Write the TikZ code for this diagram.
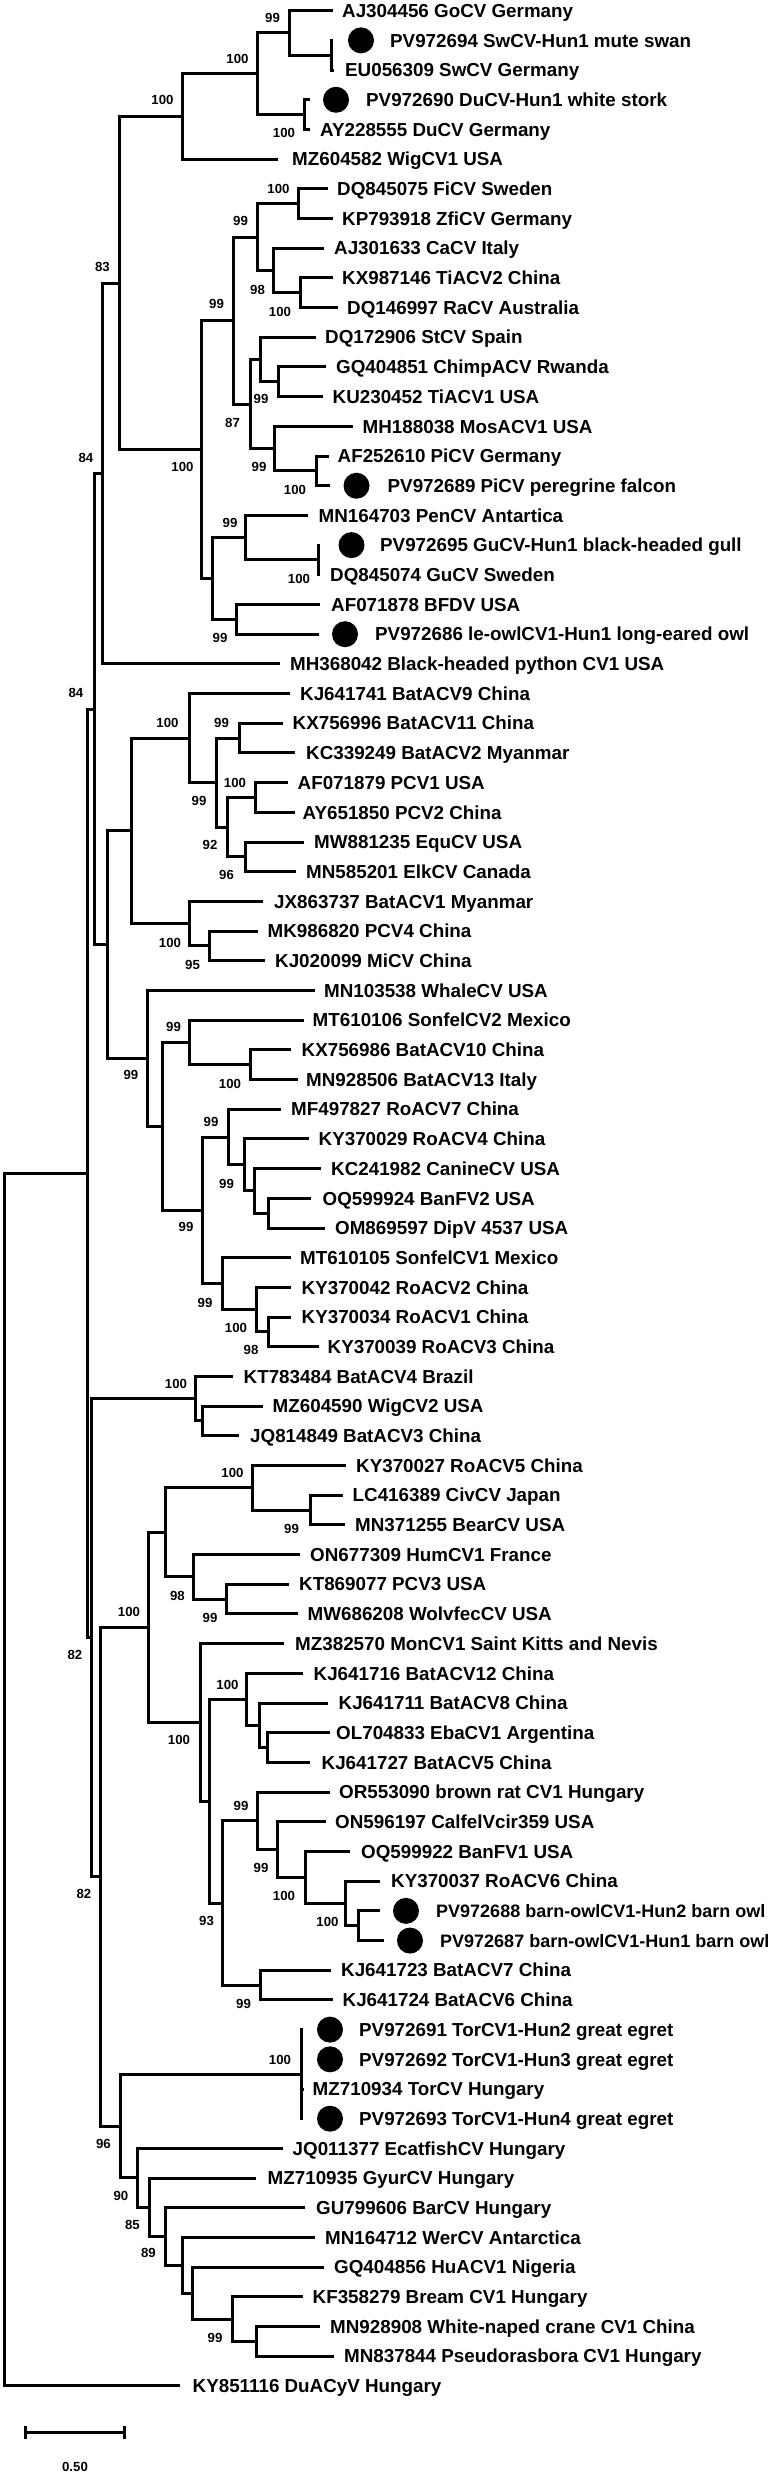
\documentclass[tikz,border=0pt]{standalone}
\usepackage{fontspec}
\setmainfont{Liberation Sans}
\newcommand\leaffont{\fontsize{18.8pt}{20pt}\selectfont\bfseries}
\newcommand\smleaffont{\fontsize{18pt}{20pt}\selectfont\bfseries}
\newcommand\bsfont{\fontsize{13.2pt}{14pt}\selectfont\bfseries}
\tikzset{
  br/.style={line width=3pt, line join=miter},
  leaflab/.style={anchor=base west, inner sep=0pt, font=\leaffont, yshift=-6.7pt},
  bslab/.style={inner sep=0pt, font=\bsfont},
  blackdot/.style={circle, fill=black, minimum size=26pt, inner sep=0pt},
}
\newcommand\tleaf[4]{\coordinate (t#1) at (#2,{ly(#1)}); \node[leaflab] (L#1) at (#3,{ly(#1)}) {#4};}
\newcommand\tdleaf[5]{\coordinate (t#1) at (#2,{ly(#1)}); \node[blackdot] (d#1) at (#3,{ly(#1)}) {}; \node[leaflab] (L#1) at (#4,{ly(#1)}) {#5};}
\begin{document}
\begin{tikzpicture}[x=1pt,y=-1pt,declare function={ly(\i)=10.7+(\i-1)*29.69;}]
\useasboundingbox (0,0) rectangle (778,2473);
\fill[white] (0,0) rectangle (778,2473);
% leaves
\tleaf{1}{332.5}{342}{AJ304456 GoCV Germany}
\tdleaf{2}{333}{361}{390}{PV972694 SwCV-Hun1 mute swan}
\tleaf{3}{333.5}{345}{EU056309 SwCV Germany}
\tdleaf{4}{310}{336}{366}{PV972690 DuCV-Hun1 white stork}
\tleaf{5}{310}{320}{AY228555 DuCV Germany}
\tleaf{6}{277.5}{292}{MZ604582 WigCV1 USA}
\tleaf{7}{327.5}{337}{DQ845075 FiCV Sweden}
\tleaf{8}{332.5}{342}{KP793918 ZfiCV Germany}
\tleaf{9}{324}{334}{AJ301633 CaCV Italy}
\tleaf{10}{332.5}{342}{KX987146 TiACV2 China}
\tleaf{11}{337.5}{347}{DQ146997 RaCV Australia}
\tleaf{12}{316}{325}{DQ172906 StCV Spain}
\tleaf{13}{326}{336}{GQ404851 ChimpACV Rwanda}
\tleaf{14}{322.5}{332.5}{KU230452 TiACV1 USA}
\tleaf{15}{352.5}{362.5}{MH188038 MosACV1 USA}
\tleaf{16}{329}{337.5}{AF252610 PiCV Germany}
\tdleaf{17}{330}{356.5}{387.5}{PV972689 PiCV peregrine falcon}
\tleaf{18}{307.5}{318.5}{MN164703 PenCV Antartica}
\tdleaf{19}{320}{351.5}{380}{PV972695 GuCV-Hun1 black-headed gull}
\tleaf{20}{320}{330}{DQ845074 GuCV Sweden}
\tleaf{21}{320}{331}{AF071878 BFDV USA}
\tdleaf{22}{318.5}{345}{375}{PV972686 le-owlCV1-Hun1 long-eared owl}
\tleaf{23}{280}{290}{MH368042 Black-headed python CV1 USA}
\tleaf{24}{290}{300}{KJ641741 BatACV9 China}
\tleaf{25}{282.5}{292.5}{KX756996 BatACV11 China}
\tleaf{26}{295}{306}{KC339249 BatACV2 Myanmar}
\tleaf{27}{287.5}{297.5}{AF071879 PCV1 USA}
\tleaf{28}{295}{302.5}{AY651850 PCV2 China}
\tleaf{29}{304}{314}{MW881235 EquCV USA}
\tleaf{30}{296}{306}{MN585201 ElkCV Canada}
\tleaf{31}{262.5}{274}{JX863737 BatACV1 Myanmar}
\tleaf{32}{257.5}{267.5}{MK986820 PCV4 China}
\tleaf{33}{265}{275}{KJ020099 MiCV China}
\tleaf{34}{315}{324}{MN103538 WhaleCV USA}
\tleaf{35}{303.5}{312.5}{MT610106 SonfelCV2 Mexico}
\tleaf{36}{291}{301.5}{KX756986 BatACV10 China}
\tleaf{37}{297.5}{306}{MN928506 BatACV13 Italy}
\tleaf{38}{281}{291}{MF497827 RoACV7 China}
\tleaf{39}{308.5}{318.5}{KY370029 RoACV4 China}
\tleaf{40}{321}{331}{KC241982 CanineCV USA}
\tleaf{41}{311}{322.5}{OQ599924 BanFV2 USA}
\tleaf{42}{325}{335}{OM869597 DipV 4537 USA}
\tleaf{43}{291}{300}{MT610105 SonfelCV1 Mexico}
\tleaf{44}{291}{301.5}{KY370042 RoACV2 China}
\tleaf{45}{291}{301.5}{KY370034 RoACV1 China}
\tleaf{46}{318.5}{327.5}{KY370039 RoACV3 China}
\tleaf{47}{232.5}{243.5}{KT783484 BatACV4 Brazil}
\tleaf{48}{262.5}{272.5}{MZ604590 WigCV2 USA}
\tleaf{49}{239}{250}{JQ814849 BatACV3 China}
\tleaf{50}{346}{356}{KY370027 RoACV5 China}
\tleaf{51}{342.5}{352.5}{LC416389 CivCV Japan}
\tleaf{52}{345}{355}{MN371255 BearCV USA}
\tleaf{53}{300}{310}{ON677309 HumCV1 France}
\tleaf{54}{289}{299}{KT869077 PCV3 USA}
\tleaf{55}{297.5}{307.5}{MW686208 WolvfecCV USA}
\tleaf{56}{284}{295}{MZ382570 MonCV1 Saint Kitts and Nevis}
\tleaf{57}{302.5}{313.5}{KJ641716 BatACV12 China}
\tleaf{58}{327.5}{338.5}{KJ641711 BatACV8 China}
\tleaf{59}{330}{336}{OL704833 EbaCV1 Argentina}
\tleaf{60}{310}{321.5}{KJ641727 BatACV5 China}
\tleaf{61}{330}{339}{OR553090 brown rat CV1 Hungary}
\tleaf{62}{326}{335}{ON596197 CalfelVcir359 USA}
\tleaf{63}{350}{361}{OQ599922 BanFV1 USA}
\tleaf{64}{380}{391}{KY370037 RoACV6 China}
\tdleaf{65}{380}{406}{436}{\smleaffont PV972688 barn-owlCV1-Hun2 barn owl}
\tdleaf{66}{383.5}{410}{440}{\smleaffont PV972687 barn-owlCV1-Hun1 barn owl}
\tleaf{67}{331}{341}{KJ641723 BatACV7 China}
\tleaf{68}{332.5}{342.5}{KJ641724 BatACV6 China}
\tdleaf{69}{303}{330}{359}{PV972691 TorCV1-Hun2 great egret}
\tdleaf{70}{303}{330}{359}{PV972692 TorCV1-Hun3 great egret}
\tleaf{71}{304}{312.5}{MZ710934 TorCV Hungary}
\tdleaf{72}{303}{330}{359}{PV972693 TorCV1-Hun4 great egret}
\tleaf{73}{282.5}{292.5}{JQ011377 EcatfishCV Hungary}
\tleaf{74}{256}{267.5}{MZ710935 GyurCV Hungary}
\tleaf{75}{305}{316}{GU799606 BarCV Hungary}
\tleaf{76}{315}{325}{MN164712 WerCV Antarctica}
\tleaf{77}{324}{334}{GQ404856 HuACV1 Nigeria}
\tleaf{78}{302.5}{312.5}{KF358279 Bream CV1 Hungary}
\tleaf{79}{320}{330}{MN928908 White-naped crane CV1 China}
\tleaf{80}{334}{344}{MN837844 Pseudorasbora CV1 Hungary}
\tleaf{81}{180}{192.5}{KY851116 DuACyV Hungary}
% internal nodes
\coordinate (n23) at (331.5,55.24);
\coordinate (nA) at (289,32.97);
\coordinate (n45) at (304,114.62);
\coordinate (nB) at (257.5,73.80);
\coordinate (nC) at (182.5,116.48);
\coordinate (n78) at (298.5,203.69);
\coordinate (n1011) at (300,292.76);
\coordinate (nG) at (273.5,270.49);
\coordinate (nF) at (257.5,237.09);
\coordinate (n1314) at (278.5,381.83);
\coordinate (nJ) at (260,359.56);
\coordinate (n1617) at (316,470.90);
\coordinate (nK) at (274,448.63);
\coordinate (nI) at (250,404.10);
\coordinate (nH) at (233.5,320.60);
\coordinate (n1920) at (318.5,559.97);
\coordinate (nN) at (245,537.70);
\coordinate (n2122) at (236,619.35);
\coordinate (nM) at (212.5,578.53);
\coordinate (nL) at (201.5,449.57);
\coordinate (nD) at (119,283.03);
\coordinate (nE) at (102.5,473.46);
\coordinate (n2526) at (239,738.11);
\coordinate (n2728) at (255,797.49);
\coordinate (n2930) at (245,856.87);
\coordinate (nU) at (227.5,827.18);
\coordinate (nT) at (216,782.65);
\coordinate (nS) at (189,738.11);
\coordinate (n3233) at (209,945.94);
\coordinate (nV) at (189,923.67);
\coordinate (nR) at (131,830.89);
\coordinate (n3637) at (250,1064.70);
\coordinate (nY) at (189,1042.43);
\coordinate (n4142) at (268.5,1213.15);
\coordinate (nAC) at (254,1190.88);
\coordinate (nAB) at (244,1164.90);
\coordinate (nAA) at (228.5,1137.07);
\coordinate (n4546) at (268.5,1331.91);
\coordinate (nAE) at (256,1309.64);
\coordinate (nAD) at (222.5,1283.66);
\coordinate (nZ) at (202.5,1210.37);
\coordinate (nX) at (162.5,1126.40);
\coordinate (nW) at (147.5,1058.44);
\coordinate (nQ) at (107.5,944.67);
\coordinate (nO) at (94,709.07);
\coordinate (n4849) at (202.5,1420.98);
\coordinate (n4749) at (195,1398.71);
\coordinate (n5152) at (310,1510.05);
\coordinate (n5052) at (252.5,1487.78);
\coordinate (n5455) at (226.5,1599.12);
\coordinate (n5355) at (193.5,1576.85);
\coordinate (nAF) at (165,1532.32);
\coordinate (n5960) at (267.5,1747.57);
\coordinate (n5860) at (259,1725.30);
\coordinate (nAM) at (246.5,1699.32);
\coordinate (n6566) at (358.5,1925.71);
\coordinate (n6466) at (345,1903.44);
\coordinate (nAQ) at (305,1877.46);
\coordinate (nAP) at (277.5,1849.63);
\coordinate (nAO) at (257.5,1820.87);
\coordinate (n6768) at (260,1985.09);
\coordinate (nAL) at (222.5,1902.98);
\coordinate (nAN) at (209,1801.15);
\coordinate (nAK) at (200,1722.40);
\coordinate (nAG) at (148.5,1627.36);
\coordinate (nTor) at (301,2074.16);
\coordinate (n7980) at (256,2341.37);
\coordinate (nAW) at (232.5,2319.10);
\coordinate (nAV) at (192.5,2293.12);
\coordinate (nAU) at (182.5,2265.29);
\coordinate (nAT) at (165,2236.53);
\coordinate (nAS) at (149,2207.30);
\coordinate (nAR) at (137.5,2177.84);
\coordinate (nAI) at (120,2126.00);
\coordinate (nAH) at (100,1876.68);
\coordinate (nAJ) at (91,1637.70);
\coordinate (nP) at (87,1173.39);
\coordinate (root) at (4,1779.65);
% branches
\foreach \p/\c in {n23/t2,n23/t3,nA/t1,nA/n23,n45/t4,n45/t5,nB/nA,nB/n45,nC/nB,nC/t6,
 n78/t7,n78/t8,n1011/t10,n1011/t11,nG/t9,nG/n1011,nF/n78,nF/nG,n1314/t13,n1314/t14,
 nJ/t12,nJ/n1314,n1617/t16,n1617/t17,nK/t15,nK/n1617,nI/nJ,nI/nK,nH/nF,nH/nI,
 n1920/t19,n1920/t20,nN/t18,nN/n1920,n2122/t21,n2122/t22,nM/nN,nM/n2122,nL/nH,nL/nM,
 nD/nC,nD/nL,nE/nD,nE/t23,
 n2526/t25,n2526/t26,n2728/t27,n2728/t28,n2930/t29,n2930/t30,nU/n2728,nU/n2930,
 nT/n2526,nT/nU,nS/t24,nS/nT,n3233/t32,n3233/t33,nV/t31,nV/n3233,nR/nS,nR/nV,
 n3637/t36,n3637/t37,nY/t35,nY/n3637,n4142/t41,n4142/t42,nAC/t40,nAC/n4142,
 nAB/t39,nAB/nAC,nAA/t38,nAA/nAB,n4546/t45,n4546/t46,nAE/t44,nAE/n4546,
 nAD/t43,nAD/nAE,nZ/nAA,nZ/nAD,nX/nY,nX/nZ,nW/t34,nW/nX,nQ/nR,nQ/nW,nO/nE,nO/nQ,
 n4849/t48,n4849/t49,n4749/t47,n4749/n4849,n5152/t51,n5152/t52,n5052/t50,n5052/n5152,
 n5455/t54,n5455/t55,n5355/t53,n5355/n5455,nAF/n5052,nAF/n5355,
 n5960/t59,n5960/t60,n5860/t58,n5860/n5960,nAM/t57,nAM/n5860,
 n6566/t65,n6566/t66,n6466/t64,n6466/n6566,nAQ/t63,nAQ/n6466,nAP/t62,nAP/nAQ,
 nAO/t61,nAO/nAP,n6768/t67,n6768/t68,nAL/nAO,nAL/n6768,nAN/nAM,nAN/nAL,
 nAK/t56,nAK/nAN,nAG/nAF,nAG/nAK,
 nTor/t69,nTor/t70,nTor/t71,nTor/t72,n7980/t79,n7980/t80,nAW/t78,nAW/n7980,
 nAV/t77,nAV/nAW,nAU/t76,nAU/nAV,nAT/t75,nAT/nAU,nAS/t74,nAS/nAT,nAR/t73,nAR/nAS,
 nAI/nTor,nAI/nAR,nAH/nAG,nAH/nAI,nAJ/n4749,nAJ/nAH,nP/nO,nP/nAJ,root/nP,root/t81}
 {\draw[br] (\p) |- (\c);}
% bootstrap values
\foreach \n/\x/\y/\v in {
 bA/272.5/18.3/99, bB/237.5/59.3/100, bC/162.5/100/100, b45/284/132.7/100,
 b78/278.5/189.3/100, bF/240.5/221/99, bG/257.5/290/98, b1011/280/311.7/100,
 bH/216.5/304.3/99, bD/102.5/266.7/83, b1314/261/399.3/99, bI/232.5/423.3/87,
 bK/259/467.3/99, b1617/295/490/100, bL/182.5/466.7/100, bE/86/458.3/84,
 bN/230/523/99, b1920/299/579/100, b2122/220/637.7/99, bO/76/693/84,
 bS/167.5/723.3/100, b2526/221.5/723.3/99, b2728/235/783.3/100, bT/199/801/99,
 bU/210/845/92, b2930/226.5/875/96, bV/170/943.3/100, b3233/192.5/965/95,
 bY/173.5/1027/99, b3637/230/1084.3/100, bW/131/1075/99, bAA/211/1121.7/99,
 bAB/226.5/1184.3/99, bZ/186/1226.7/99, bAD/205/1302.7/99, bAE/236/1328.3/100,
 b4546/251/1350/98, b4749/176/1384/100, b5052/232.5/1473.3/100, b5152/291.5/1529/99,
 b5355/177.5/1595.7/98, b5455/210/1617.7/99, bAG/129/1611.7/100, bAJ/75/1655/82,
 bAK/179/1740/100, bAM/227.5/1685/100, bAO/241/1805.7/99, bAP/261/1867.7/99,
 bAQ/284/1895.7/100, b6466/327.5/1922.3/100, bAH/84/1894/82, bAL/206.5/1921/93,
 b6768/243.5/2004.3/99, bTor/280/2060/100, bAI/103.5/2144/96, bAR/121/2195.7/90,
 bAS/132.5/2225/85, bAT/148.5/2253.3/89, bAW/215/2338.3/99}
 {\node[bslab] (\n) at (\x,\y) {\v};}
% scale bar
\coordinate (s1) at (25,2432.7);
\coordinate (s2) at (124,2432.7);
\draw[br] (s1) -- (s2);
\draw[br] ([yshift=6.5pt]s1) -- ([yshift=-6.5pt]s1);
\draw[br] ([yshift=6.5pt]s2) -- ([yshift=-6.5pt]s2);
\node[bslab] (sl) at (75,2466.7) {0.50};
\end{tikzpicture}
\end{document}
